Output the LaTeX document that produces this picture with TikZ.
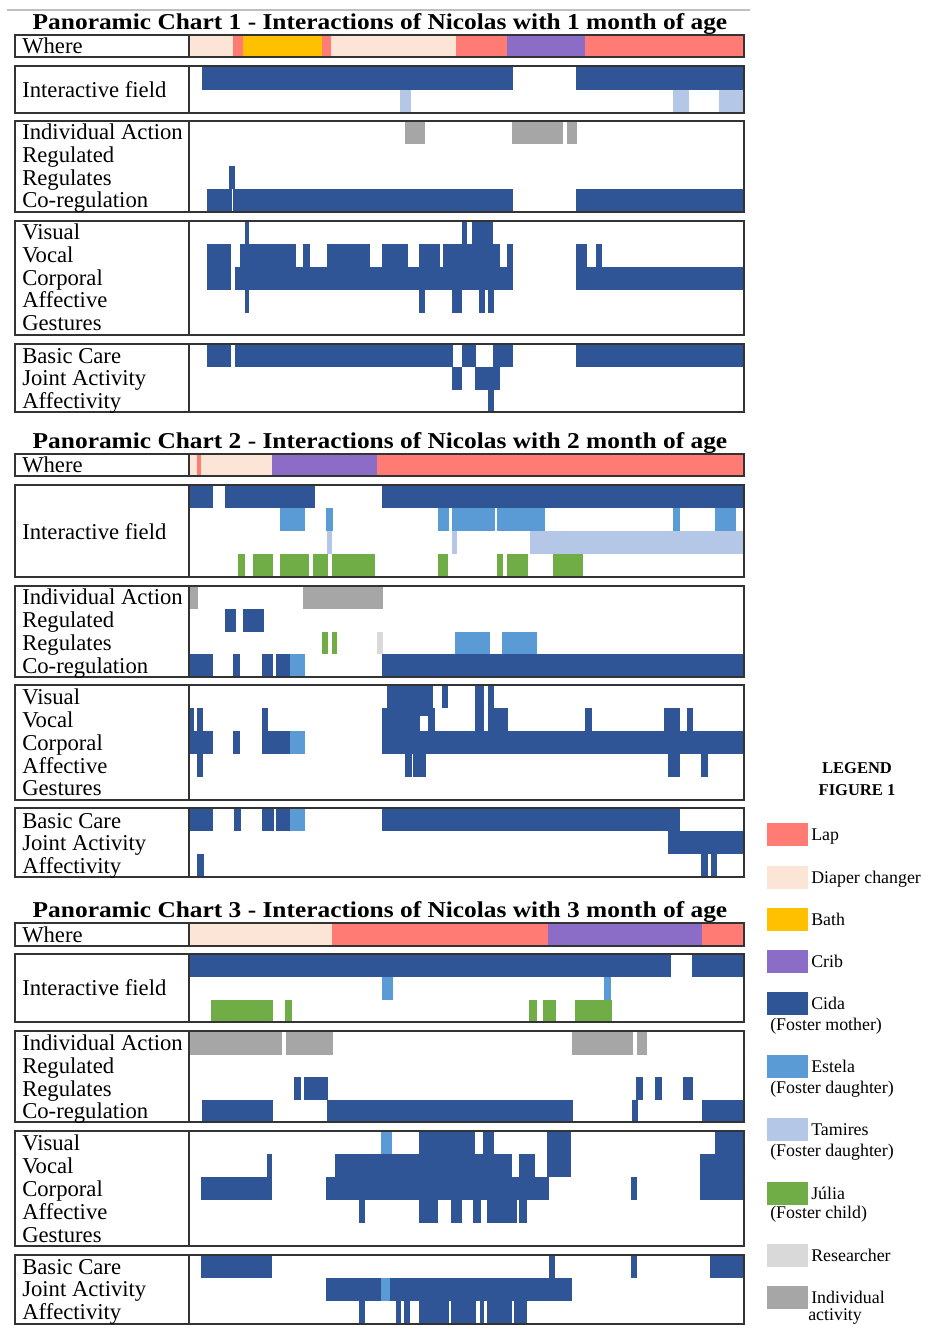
\documentclass[tikz,border=0pt]{standalone}
\usepackage{fontspec}
\setmainfont{Liberation Serif}
\definecolor{lap}{HTML}{FF7B73}
\definecolor{diaper}{HTML}{FCE4D6}
\definecolor{bath}{HTML}{FFC000}
\definecolor{crib}{HTML}{8B6DC8}
\definecolor{cida}{HTML}{2F5597}
\definecolor{estela}{HTML}{5B9BD5}
\definecolor{tam}{HTML}{B4C7E7}
\definecolor{julia}{HTML}{70AD47}
\definecolor{resr}{HTML}{D9D9D9}
\definecolor{indiv}{HTML}{A6A6A6}
\newcommand\bx[5]{\fill[#5] (#1,#2) rectangle (#3,#4);}
\newcommand\cb[4]{\fill[cida] (#1,#2) rectangle (#3,#4);}
\newcommand\lab[3]{\node[lbl] (#1) at (22,#2+7) {#3};}
\newcommand\panel[2]{\draw[bord] (15,#1) rectangle (744,#2); \draw[bord] (189,#1) -- (189,#2);}
\newcommand\ttl[3]{\node[ttlstyle] (#1) at (380,#2) {\scalebox{1.12}[1]{#3}};}
\newcommand\leg[4]{\fill[#2] (767,#3) rectangle (808,#3+23); \node[legtxt] (#1) at (811,#3+11.5+6) {#4};}
\begin{document}
\begin{tikzpicture}[x=0.75pt,y=-0.75pt,
  bord/.style={draw=black!80,line width=1.1pt},
  lbl/.style={anchor=base west,inner sep=0pt,font=\fontsize{17}{19}\selectfont},
  ttlstyle/.style={inner sep=0pt,font=\fontsize{17}{19}\selectfont\bfseries},
  legtxt/.style={anchor=base west,inner sep=0pt,font=\fontsize{13.4}{15}\selectfont},
  leghead/.style={inner sep=0pt,font=\fontsize{12.4}{14}\selectfont\bfseries}]
\useasboundingbox (0,0) rectangle (925,1325);
\draw[black!25,line width=0.8pt] (7,10) -- (750,10);
% ================= CHART 1 =================
\ttl{t1}{24}{Panoramic Chart 1 - Interactions of Nicolas with 1 month of age}
% where
\bx{190}{35}{233}{57}{diaper}\bx{233}{35}{243}{57}{lap}\bx{243}{35}{322}{57}{bath}
\bx{322}{35}{331}{57}{lap}\bx{331}{35}{456}{57}{diaper}\bx{456}{35}{507}{57}{lap}
\bx{507}{35}{585}{57}{crib}\bx{585}{35}{744}{57}{lap}
% interactive field
\cb{202}{66}{513}{90}\cb{576}{66}{744}{90}
\bx{400}{90}{411}{113}{tam}\bx{673}{90}{689}{113}{tam}\bx{719}{90}{743}{113}{tam}
% regulation
\bx{405}{121}{425}{144}{indiv}\bx{512}{121}{563}{144}{indiv}\bx{567}{121}{577}{144}{indiv}
\cb{207}{189}{513}{212}\cb{576}{189}{744}{212}
\cb{229}{166}{235}{212}\fill[white] (231.5,189) rectangle (233,212);
% channels
\cb{207}{244}{231}{290}\cb{245}{221}{249}{313}\cb{235}{267}{513}{290}
\cb{240}{244}{296}{267}\cb{303}{244}{310}{267}\cb{327}{244}{370}{267}
\cb{382}{244}{408}{267}\cb{419}{244}{440}{267}\cb{443}{244}{500}{267}\cb{507}{244}{513}{267}
\cb{462}{221}{467}{244}\cb{472}{221}{493}{244}
\cb{419}{290}{425}{313}\cb{452}{290}{462}{313}\cb{479}{290}{485}{313}\cb{488}{290}{494}{313}
\cb{576}{244}{587}{267}\cb{596}{244}{602}{267}\cb{576}{267}{744}{290}
% care
\cb{207}{344}{231}{367}\cb{235}{344}{453}{367}\cb{462}{344}{476}{367}\cb{493}{344}{513}{367}
\cb{576}{344}{744}{367}
\cb{452}{367}{462}{390}\cb{475}{367}{500}{390}\cb{488}{390}{494}{412}
\panel{35}{57}\panel{66}{113}\panel{121}{212}\panel{221}{335}\panel{344}{412}
\lab{a1}{46}{Where}
\lab{a2}{90}{Interactive field}
\lab{a3}{132}{Individual Action}\lab{a4}{155}{Regulated}\lab{a5}{178}{Regulates}\lab{a6}{200}{Co-regulation}
\lab{a7}{232}{Visual}\lab{a8}{255}{Vocal}\lab{a9}{278}{Corporal}\lab{a10}{300}{Affective}\lab{a11}{323}{Gestures}
\lab{a12}{356}{Basic Care}\lab{a13}{378}{Joint Activity}\lab{a14}{401}{Affectivity}
% ================= CHART 2 =================
\ttl{t2}{443}{Panoramic Chart 2 - Interactions of Nicolas with 2 month of age}
\bx{190}{454}{197}{476}{diaper}\bx{197}{454}{201}{476}{lap}\bx{201}{454}{272}{476}{diaper}
\bx{272}{454}{377}{476}{crib}\bx{377}{454}{744}{476}{lap}
% interactive
\cb{190}{485}{213}{508}\cb{225}{485}{315}{508}\cb{382}{485}{744}{508}
\bx{280}{508}{305}{531}{estela}\bx{326}{508}{333}{531}{estela}\bx{438}{508}{449}{531}{estela}
\bx{452}{508}{495}{531}{estela}\bx{497}{508}{545}{531}{estela}\bx{673}{508}{680}{531}{estela}
\bx{715}{508}{736}{531}{estela}
\bx{327}{531}{332}{554}{tam}\bx{452}{531}{457}{554}{tam}\bx{530}{531}{744}{554}{tam}
\bx{238}{554}{245}{577}{julia}\bx{253}{554}{273}{577}{julia}\bx{280}{554}{309}{577}{julia}
\bx{313}{554}{328}{577}{julia}\bx{332}{554}{375}{577}{julia}\bx{438}{554}{448}{577}{julia}
\bx{497}{554}{503}{577}{julia}\bx{507}{554}{528}{577}{julia}\bx{553}{554}{583}{577}{julia}
% regulation
\bx{190}{586}{198}{609}{indiv}\bx{303}{586}{383}{609}{indiv}
\cb{225}{609}{236}{632}\cb{243}{609}{264}{632}
\bx{322}{632}{328}{654}{julia}\bx{332}{632}{337}{654}{julia}\bx{377}{632}{383}{654}{resr}
\bx{455}{632}{490}{654}{estela}\bx{502}{632}{537}{654}{estela}
\cb{190}{654}{213}{677}\cb{233}{654}{240}{677}\cb{262}{654}{273}{677}\cb{276}{654}{290}{677}
\bx{290}{654}{305}{677}{estela}\cb{382}{654}{744}{677}
% channels
\cb{190}{708}{194}{754}\cb{197}{708}{203}{777}\cb{190}{731}{213}{754}\cb{233}{731}{240}{754}
\cb{262}{708}{268}{754}\cb{262}{731}{276}{754}\cb{276}{731}{290}{754}\bx{290}{731}{305}{754}{estela}
\cb{382}{708}{435}{731}\cb{387}{685}{433}{708}\fill[white] (420,716) rectangle (428,731);
\cb{442}{685}{448}{708}
\cb{382}{731}{744}{754}
\cb{405}{754}{412}{777}\cb{413}{754}{426}{777}
\cb{475}{685}{484}{731}\cb{488}{685}{494}{731}\cb{488}{708}{508}{731}\cb{585}{708}{592}{731}
\cb{664}{708}{680}{731}\cb{687}{708}{693}{731}
\cb{668}{754}{680}{777}\cb{701}{754}{708}{777}
% care
\cb{190}{808}{213}{831}\cb{234}{808}{241}{831}\cb{262}{808}{274}{831}\cb{276}{808}{290}{831}
\bx{290}{808}{305}{831}{estela}\cb{382}{808}{680}{831}
\cb{668}{831}{744}{854}
\cb{197}{854}{204}{877}\cb{701}{854}{708}{877}\cb{711}{854}{717}{877}
\panel{454}{476}\panel{485}{577}\panel{586}{677}\panel{685}{800}\panel{808}{877}
\lab{b1}{465}{Where}
\lab{b2}{532}{Interactive field}
\lab{b3}{597}{Individual Action}\lab{b4}{620}{Regulated}\lab{b5}{643}{Regulates}\lab{b6}{666}{Co-regulation}
\lab{b7}{697}{Visual}\lab{b8}{720}{Vocal}\lab{b9}{743}{Corporal}\lab{b10}{766}{Affective}\lab{b11}{788}{Gestures}
\lab{b12}{821}{Basic Care}\lab{b13}{843}{Joint Activity}\lab{b14}{866}{Affectivity}
% ================= CHART 3 =================
\ttl{t3}{912}{Panoramic Chart 3 - Interactions of Nicolas with 3 month of age}
\bx{190}{923}{332}{946}{diaper}\bx{332}{923}{548}{946}{lap}\bx{548}{923}{702}{946}{crib}\bx{702}{923}{744}{946}{lap}
% interactive
\cb{190}{954}{671}{977}\cb{692}{954}{744}{977}
\bx{382}{977}{393}{1000}{estela}\bx{604}{977}{611}{1000}{estela}
\bx{211}{1000}{273}{1022}{julia}\bx{285}{1000}{292}{1022}{julia}\bx{529}{1000}{537}{1022}{julia}
\bx{543}{1000}{556}{1022}{julia}\bx{575}{1000}{612}{1022}{julia}
% regulation
\bx{190}{1031}{282}{1055}{indiv}\bx{286}{1031}{333}{1055}{indiv}\bx{572}{1031}{633}{1055}{indiv}\bx{637}{1031}{647}{1055}{indiv}
\cb{294}{1077}{301}{1100}\cb{304}{1077}{328}{1100}\cb{636}{1077}{643}{1100}\cb{655}{1077}{662}{1100}\cb{683}{1077}{693}{1100}
\cb{202}{1100}{273}{1122}\cb{327}{1100}{573}{1122}\cb{632}{1100}{638}{1122}\cb{702}{1100}{744}{1122}
% channels
\cb{201}{1177}{272}{1200}\cb{267}{1154}{272}{1200}
\cb{326}{1177}{549}{1200}\cb{335}{1154}{512}{1177}\cb{519}{1154}{535}{1177}
\bx{381}{1131}{392}{1154}{estela}\cb{419}{1131}{475}{1154}\cb{483}{1131}{494}{1154}\cb{547}{1131}{571}{1177}
\cb{359}{1200}{365}{1223}\cb{419}{1200}{438}{1223}\cb{451}{1200}{462}{1223}\cb{473}{1200}{481}{1223}
\cb{487}{1200}{517}{1223}\cb{519}{1200}{527}{1223}
\cb{631}{1177}{637}{1200}
\cb{715}{1131}{744}{1154}\cb{700}{1154}{744}{1200}
% care
\cb{201}{1255}{272}{1278}\cb{549}{1255}{555}{1278}\cb{631}{1255}{637}{1278}\cb{710}{1255}{744}{1278}
\cb{326}{1278}{572}{1301}\bx{381}{1278}{390}{1301}{estela}
\cb{359}{1301}{365}{1324}\cb{396}{1301}{401}{1324}\cb{404}{1301}{410}{1324}\cb{419}{1301}{449}{1324}
\cb{451}{1301}{476}{1324}\cb{480}{1301}{484}{1324}\cb{487}{1301}{512}{1324}\cb{514}{1301}{527}{1324}
\panel{923}{946}\panel{954}{1022}\panel{1031}{1122}\panel{1131}{1246}\panel{1255}{1324}
\lab{c1}{935}{Where}
\lab{c2}{988}{Interactive field}
\lab{c3}{1043}{Individual Action}\lab{c4}{1066}{Regulated}\lab{c5}{1089}{Regulates}\lab{c6}{1111}{Co-regulation}
\lab{c7}{1143}{Visual}\lab{c8}{1166}{Vocal}\lab{c9}{1189}{Corporal}\lab{c10}{1212}{Affective}\lab{c11}{1235}{Gestures}
\lab{c12}{1267}{Basic Care}\lab{c13}{1289}{Joint Activity}\lab{c14}{1312}{Affectivity}
% ================= LEGEND =================
\node[leghead] (lh1) at (857,768) {LEGEND};
\node[leghead] (lh2) at (857,790) {FIGURE 1};
\leg{g1}{lap}{823}{Lap}
\leg{g2}{diaper}{866}{Diaper changer}
\leg{g3}{bath}{908}{Bath}
\leg{g4}{crib}{950}{Crib}
\leg{g5}{cida}{992}{Cida}
\node[legtxt] (g5b) at (770,1030) {(Foster mother)};
\leg{g6}{estela}{1055}{Estela}
\node[legtxt] (g6b) at (770,1093) {(Foster daughter)};
\leg{g7}{tam}{1118}{Tamires}
\node[legtxt] (g7b) at (770,1156) {(Foster daughter)};
\leg{g8}{julia}{1182}{Júlia}
\node[legtxt] (g8b) at (770,1218) {(Foster child)};
\leg{g9}{resr}{1244}{Researcher}
\leg{g10}{indiv}{1286}{Individual}
\node[legtxt] (g10b) at (808,1320) {activity};
\end{tikzpicture}
\end{document}
